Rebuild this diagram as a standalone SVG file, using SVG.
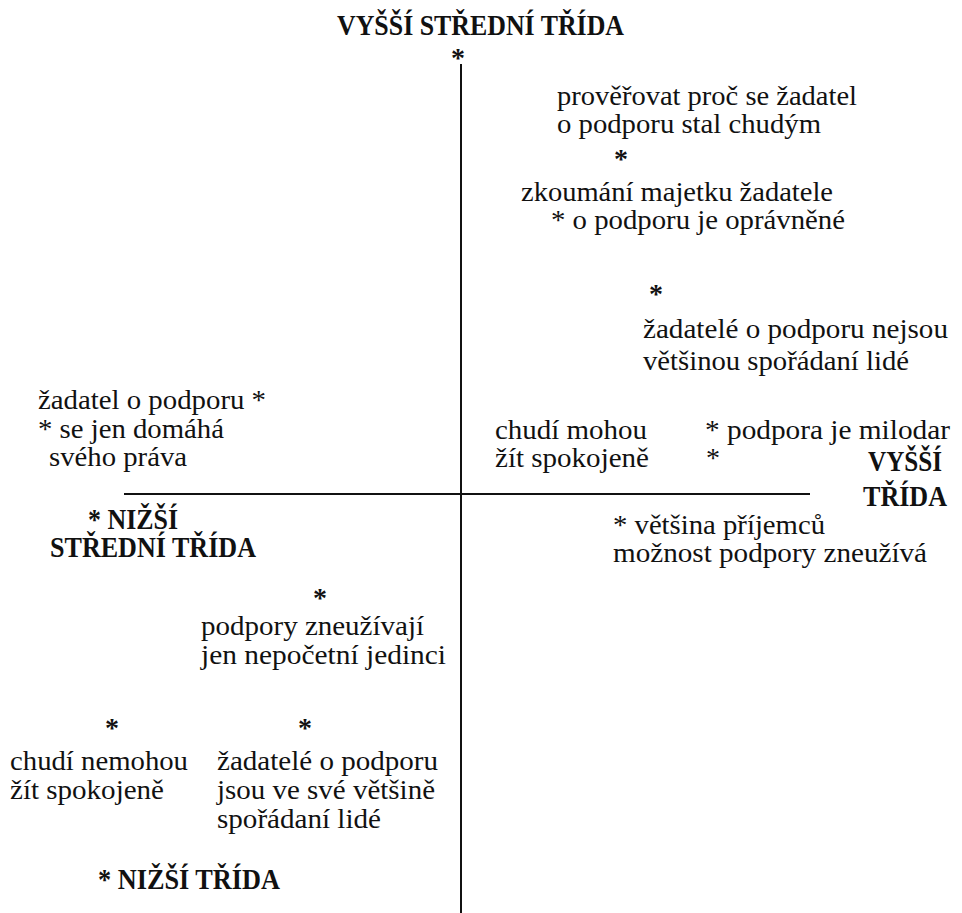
<svg xmlns="http://www.w3.org/2000/svg" width="962" height="913" viewBox="0 0 962 913">
<rect width="962" height="913" fill="#fff"/>
<g id="axes" stroke="#111" stroke-width="2">
<line x1="461" y1="64" x2="461" y2="913"/>
<line x1="124" y1="494" x2="810" y2="494"/>
</g>
<g id="n-vyssi-stredni"><text font-family="Liberation Serif" font-size="30" font-weight="bold" fill="#111" x="337" y="35" textLength="287" lengthAdjust="spacingAndGlyphs">VYŠŠÍ STŘEDNÍ TŘÍDA</text><text font-family="Liberation Serif" font-size="28" font-weight="bold" fill="#111" x="451" y="67">*</text></g>
<g id="n-proverovat"><text font-family="Liberation Serif" font-size="28" fill="#111" x="557" y="105" textLength="300" lengthAdjust="spacingAndGlyphs">prověřovat proč se žadatel</text><text font-family="Liberation Serif" font-size="28" fill="#111" x="557" y="133" textLength="264" lengthAdjust="spacingAndGlyphs">o podporu stal chudým</text><text font-family="Liberation Serif" font-size="28" font-weight="bold" fill="#111" x="614" y="168">*</text></g>
<g id="n-zkoumani"><text font-family="Liberation Serif" font-size="28" fill="#111" x="521" y="201" textLength="312" lengthAdjust="spacingAndGlyphs">zkoumání majetku žadatele</text><text font-family="Liberation Serif" font-size="28" fill="#111" x="551" y="229" textLength="294" lengthAdjust="spacingAndGlyphs">* o podporu je oprávněné</text></g>
<g id="n-nejsou"><text font-family="Liberation Serif" font-size="28" font-weight="bold" fill="#111" x="649" y="303">*</text><text font-family="Liberation Serif" font-size="28" fill="#111" x="643" y="338" textLength="305" lengthAdjust="spacingAndGlyphs">žadatelé o podporu nejsou</text><text font-family="Liberation Serif" font-size="28" fill="#111" x="643" y="370" textLength="266" lengthAdjust="spacingAndGlyphs">většinou spořádaní lidé</text></g>
<g id="n-domaha"><text font-family="Liberation Serif" font-size="28" fill="#111" x="38" y="409" textLength="228" lengthAdjust="spacingAndGlyphs">žadatel o podporu *</text><text font-family="Liberation Serif" font-size="28" fill="#111" x="38" y="438" textLength="186" lengthAdjust="spacingAndGlyphs">* se jen domáhá</text><text font-family="Liberation Serif" font-size="28" fill="#111" x="49" y="466" textLength="138" lengthAdjust="spacingAndGlyphs">svého práva</text></g>
<g id="n-mohou"><text font-family="Liberation Serif" font-size="28" fill="#111" x="495" y="439" textLength="152" lengthAdjust="spacingAndGlyphs">chudí mohou</text><text font-family="Liberation Serif" font-size="28" fill="#111" x="495" y="467" textLength="154" lengthAdjust="spacingAndGlyphs">žít spokojeně</text></g>
<g id="n-milodar"><text font-family="Liberation Serif" font-size="28" fill="#111" x="705" y="439" textLength="245" lengthAdjust="spacingAndGlyphs">* podpora je milodar</text><text font-family="Liberation Serif" font-size="28" fill="#111" x="706" y="467">*</text></g>
<g id="n-vyssi"><text font-family="Liberation Serif" font-size="30" font-weight="bold" fill="#111" x="868" y="471" textLength="74" lengthAdjust="spacingAndGlyphs">VYŠŠÍ</text><text font-family="Liberation Serif" font-size="30" font-weight="bold" fill="#111" x="863" y="506" textLength="84" lengthAdjust="spacingAndGlyphs">TŘÍDA</text></g>
<g id="n-nizsi-stredni"><text font-family="Liberation Serif" font-size="30" font-weight="bold" fill="#111" x="88" y="529" textLength="90" lengthAdjust="spacingAndGlyphs">* NIŽŠÍ</text><text font-family="Liberation Serif" font-size="30" font-weight="bold" fill="#111" x="50" y="557" textLength="206" lengthAdjust="spacingAndGlyphs">STŘEDNÍ TŘÍDA</text></g>
<g id="n-vetsina"><text font-family="Liberation Serif" font-size="28" fill="#111" x="613" y="534" textLength="212" lengthAdjust="spacingAndGlyphs">* většina příjemců</text><text font-family="Liberation Serif" font-size="28" fill="#111" x="613" y="562" textLength="314" lengthAdjust="spacingAndGlyphs">možnost podpory zneužívá</text></g>
<g id="n-nepocetni"><text font-family="Liberation Serif" font-size="28" font-weight="bold" fill="#111" x="313" y="607">*</text><text font-family="Liberation Serif" font-size="28" fill="#111" x="201" y="635" textLength="223" lengthAdjust="spacingAndGlyphs">podpory zneužívají</text><text font-family="Liberation Serif" font-size="28" fill="#111" x="201" y="664" textLength="245" lengthAdjust="spacingAndGlyphs">jen nepočetní jedinci</text></g>
<g id="n-nemohou"><text font-family="Liberation Serif" font-size="28" font-weight="bold" fill="#111" x="105" y="737">*</text><text font-family="Liberation Serif" font-size="28" fill="#111" x="10" y="770" textLength="178" lengthAdjust="spacingAndGlyphs">chudí nemohou</text><text font-family="Liberation Serif" font-size="28" fill="#111" x="10" y="799" textLength="154" lengthAdjust="spacingAndGlyphs">žít spokojeně</text></g>
<g id="n-sporadani"><text font-family="Liberation Serif" font-size="28" font-weight="bold" fill="#111" x="298" y="737">*</text><text font-family="Liberation Serif" font-size="28" fill="#111" x="217" y="770" textLength="221" lengthAdjust="spacingAndGlyphs">žadatelé o podporu</text><text font-family="Liberation Serif" font-size="28" fill="#111" x="217" y="799" textLength="218" lengthAdjust="spacingAndGlyphs">jsou ve své většině</text><text font-family="Liberation Serif" font-size="28" fill="#111" x="217" y="828" textLength="164" lengthAdjust="spacingAndGlyphs">spořádaní lidé</text></g>
<g id="n-nizsi"><text font-family="Liberation Serif" font-size="30" font-weight="bold" fill="#111" x="98" y="889" textLength="182" lengthAdjust="spacingAndGlyphs">* NIŽŠÍ TŘÍDA</text></g>
</svg>
